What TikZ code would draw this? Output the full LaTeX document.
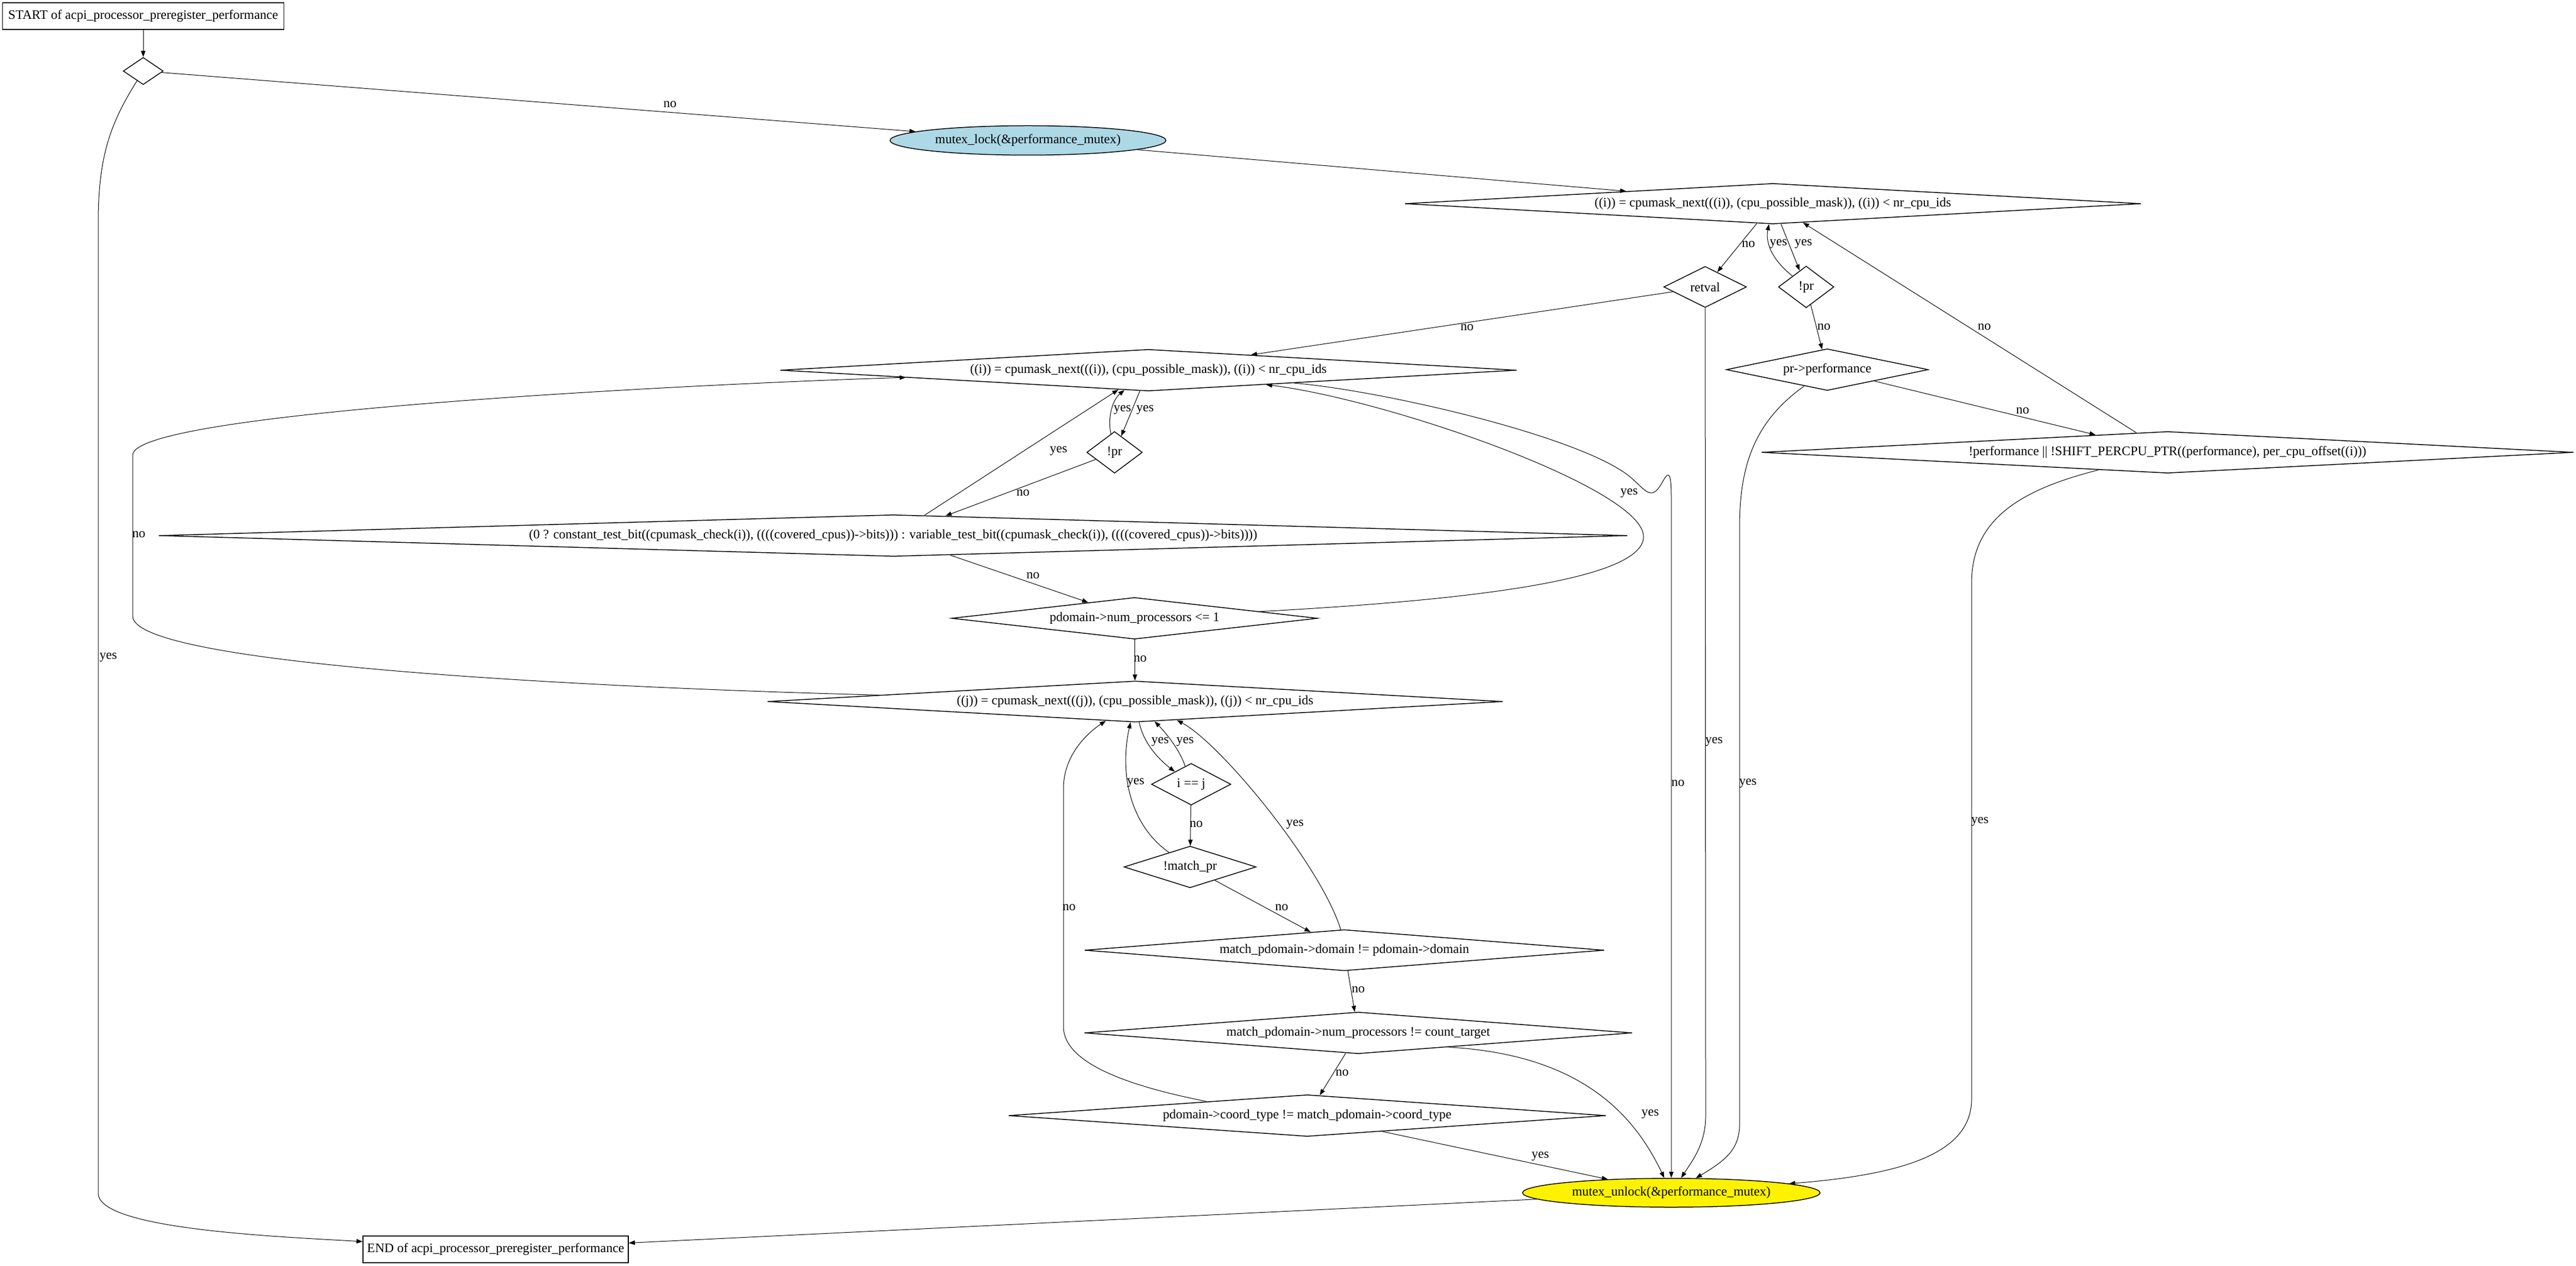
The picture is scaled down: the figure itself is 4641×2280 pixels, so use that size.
\documentclass[tikz,border=0pt]{standalone}
\usepackage{fontspec}
\setmainfont{Liberation Serif}
\usetikzlibrary{shapes.geometric,arrows.meta}
\definecolor{lockblue}{HTML}{ADD8E6}

\begin{document}
\begin{tikzpicture}[x=0.1pt,y=-0.1pt,
		every node/.style={font=\fontsize{2.35}{2.8}\selectfont, inner sep=0pt},
		box/.style={draw, rectangle, line width=0.15pt},
		cond/.style 2 args={draw, diamond, line width=0.15pt, minimum width=#1, minimum height=#2,
			/utils/exec={\pgfmathsetmacro\condaspect{#1/#2}}, shape aspect/.expanded=\condaspect},
		op/.style={draw, ellipse, line width=0.15pt},
		edge/.style={-{Triangle[length=1.1pt,width=0.8pt]}, line width=0.1pt},
		lbl/.style={}]
		\useasboundingbox (0,0) rectangle (4641,2280);

		\node[box, minimum width=50.7pt, minimum height=4.8pt] (start) at (258,29) {START of acpi\_processor\_preregister\_performance};
		\node[cond={7.2pt}{4.9pt}] (d0) at (258,128) {};
		\node[op, fill=lockblue, minimum width=49.7pt, minimum height=5.3pt] (lock) at (1852,253) {mutex\_lock(\&performance\_mutex)};
		\node[cond={132.6pt}{7.3pt}] (fori) at (3194,367) {((i)) = cpumask\_next(((i)), (cpu\_possible\_mask)), ((i)) < nr\_cpu\_ids};
		\node[cond={14.9pt}{7.4pt}] (retval) at (3072,517) {retval};
		\node[cond={10pt}{7.5pt}] (nopr) at (3254,517) {!pr};
		\node[cond={36.4pt}{7.5pt}] (prperf) at (3292,666) {pr->performance};
		\node[cond={146.3pt}{7.5pt}] (pchk) at (3905,815) {!performance || !SHIFT\_PERCPU\_PTR((performance), per\_cpu\_offset((i)))};
		\node[cond={132.7pt}{7.5pt}] (forii) at (2069,667) {((i)) = cpumask\_next(((i)), (cpu\_possible\_mask)), ((i)) < nr\_cpu\_ids};
		\node[cond={10pt}{7.5pt}] (noprii) at (2008,815) {!pr};
		\node[cond={264.6pt}{7.5pt}] (bits) at (1609,965) {(0 ? constant\_test\_bit((cpumask\_check(i)), ((((covered\_cpus))->bits))) : variable\_test\_bit((cpumask\_check(i)), ((((covered\_cpus))->bits))))};
		\node[cond={65.9pt}{7.5pt}] (nump) at (2044,1114) {pdomain->num\_processors <= 1};
		\node[cond={132.5pt}{7.4pt}] (forj) at (2045,1264) {((j)) = cpumask\_next(((j)), (cpu\_possible\_mask)), ((j)) < nr\_cpu\_ids};
		\node[cond={14.3pt}{7.5pt}] (ieqj) at (2146,1413) {i == j};
		\node[cond={23.8pt}{7.5pt}] (nomatch) at (2144,1562) {!match\_pr};
		\node[cond={93.6pt}{7.4pt}] (dom) at (2422,1712) {match\_pdomain->domain != pdomain->domain};
		\node[cond={98.7pt}{7.5pt}] (cnt) at (2447,1861) {match\_pdomain->num\_processors != count\_target};
		\node[cond={107.6pt}{7.5pt}] (coord) at (2355,2010) {pdomain->coord\_type != match\_pdomain->coord\_type};
		\node[op, fill=yellow, minimum width=53.6pt, minimum height=5.2pt] (unlock) at (3011,2149) {mutex\_unlock(\&performance\_mutex)};
		\node[box, minimum width=47.8pt, minimum height=4.8pt] (finish) at (893,2251) {END of acpi\_processor\_preregister\_performance};

		\draw[edge] (start) -- (d0);
		\draw[edge] (d0) -- (lock);
		\draw[edge] (d0) .. controls (200,220) and (177,280) .. (177,400) -- (177,2150) .. controls (177,2215) and (500,2228) .. (finish);
		\draw[edge] (lock) -- (fori);
		\draw[edge] (fori) -- (retval);
		\draw[edge] (fori) -- (nopr);
		\draw[edge] (nopr) .. controls (3195,470) and (3180,440) .. (fori);
		\draw[edge] (nopr) -- (prperf);
		\draw[edge] (pchk) -- (fori);
		\draw[edge] (prperf) -- (pchk);
		\draw[edge] (prperf) .. controls (3160,760) and (3134,840) .. (3134,950) -- (3134,2025) .. controls (3134,2070) and (3110,2090) .. (unlock);
		\draw[edge] (pchk) .. controls (3650,880) and (3552,930) .. (3552,1050) -- (3552,1980) .. controls (3552,2070) and (3450,2115) .. (unlock);
		\draw[edge] (retval) -- (forii);
		\draw[edge] (retval) -- (3073,2010) .. controls (3073,2060) and (3050,2090) .. (unlock);
		\draw[edge] (forii) .. controls (2500,705) and (2860,790) .. (2940,862) .. controls (2958,878) and (2965,888) .. (2975,888) .. controls (2990,888) and (2998,856) .. (3005,856) .. controls (3011,856) and (3011,880) .. (3011,910) -- (unlock);
		\draw[edge] (nump) .. controls (2600,1084) and (2961,1050) .. (2961,967) .. controls (2961,880) and (2500,720) .. (forii);
		\draw[edge] (forii) -- (noprii);
		\draw[edge] (noprii) .. controls (1995,750) and (2005,720) .. (forii);
		\draw[edge] (noprii) -- (bits);
		\draw[edge] (bits) -- (forii);
		\draw[edge] (bits) -- (nump);
		\draw[edge] (nump) -- (forj);
		\draw[edge] (forj) .. controls (1100,1240) and (239,1200) .. (239,1110) -- (239,820) .. controls (239,740) and (1300,690) .. (forii);
		\draw[edge] (forj) .. controls (2060,1340) and (2090,1370) .. (ieqj);
		\draw[edge] (ieqj) .. controls (2125,1350) and (2100,1320) .. (forj);
		\draw[edge] (ieqj) -- (nomatch);
		\draw[edge] (nomatch) .. controls (2040,1490) and (2015,1400) .. (forj);
		\draw[edge] (nomatch) -- (dom);
		\draw[edge] (dom.100) .. controls (2380,1560) and (2200,1340) .. (forj.-24);
		\draw[edge] (dom) -- (cnt);
		\draw[edge] (cnt) -- (coord);
		\draw[edge] (cnt.-9) .. controls (2850,1900) and (2945,2010) .. (unlock);
		\draw[edge] (coord) -- (unlock);
		\draw[edge] (coord.172) .. controls (2050,1960) and (1916,1920) .. (1916,1850) -- (1916,1420) .. controls (1916,1360) and (1960,1320) .. (forj);
		\draw[edge] (unlock) -- (finish);

		\node[lbl] (l1) at (1207,188) {no};
		\node[lbl] (l2) at (195,1184) {yes};
		\node[lbl] (l3) at (3150,440) {no};
		\node[lbl] (l4) at (3204,440) {yes};
		\node[lbl] (l5) at (3249,440) {yes};
		\node[lbl] (l6) at (3286,589) {no};
		\node[lbl] (l7) at (3575,589) {no};
		\node[lbl] (l8) at (3644,740) {no};
		\node[lbl] (l9) at (3149,1411) {yes};
		\node[lbl] (l10) at (3567,1480) {yes};
		\node[lbl] (l11) at (2643,590) {no};
		\node[lbl] (l12) at (3088,1336) {yes};
		\node[lbl] (l13) at (3023,1411) {no};
		\node[lbl] (l14) at (2935,888) {yes};
		\node[lbl] (l15) at (2063,738) {yes};
		\node[lbl] (l16) at (2022,738) {yes};
		\node[lbl] (l17) at (1843,888) {no};
		\node[lbl] (l18) at (1907,813) {yes};
		\node[lbl] (l19) at (1861,1037) {no};
		\node[lbl] (l20) at (2054,1187) {no};
		\node[lbl] (l21) at (250,963) {no};
		\node[lbl] (l22) at (2090,1336) {yes};
		\node[lbl] (l23) at (2135,1336) {yes};
		\node[lbl] (l24) at (2155,1485) {no};
		\node[lbl] (l25) at (2046,1410) {yes};
		\node[lbl] (l26) at (2309,1635) {no};
		\node[lbl] (l27) at (2333,1485) {yes};
		\node[lbl] (l28) at (2447,1783) {no};
		\node[lbl] (l29) at (2418,1933) {no};
		\node[lbl] (l30) at (2973,2007) {yes};
		\node[lbl] (l31) at (2775,2083) {yes};
		\node[lbl] (l32) at (1926,1635) {no};
\end{tikzpicture}
\end{document}
